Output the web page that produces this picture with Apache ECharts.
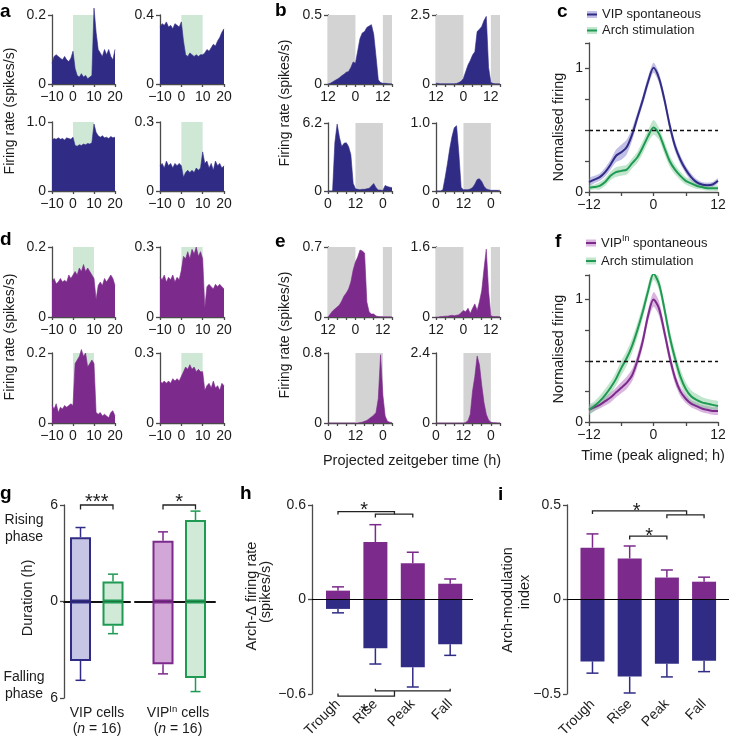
<!DOCTYPE html>
<html>
<head>
<meta charset="utf-8">
<title>VIP firing figure</title>
<script src="https://cdn.jsdelivr.net/npm/echarts@6.0.0/dist/echarts.min.js"></script>
<style>
html,body{margin:0;padding:0;background:#fff;}
#chart{width:729px;height:740px;}
</style>
</head>
<body>
<div id="chart"></div>
<script>
// ================= DATA =================
// panel a / d : optogenetic pulse (time from light onset, s)
const pulseTime = [-10,-9,-8,-7,-6,-5,-4,-3,-2,-1,0,1,2,3,4,5,6,7,8,9,10,11,12,13,14,15,16,17,18,19,20];
const lightOn = [0, 10];
const vipPulse1 = [0.06,0.08,0.085,0.08,0.075,0.07,0.08,0.07,0.065,0.075,0.095,0.045,0.025,0.02,0.03,0.02,0.025,0.015,0.02,0.025,0.22,0.15,0.1,0.09,0.08,0.1,0.085,0.1,0.08,0.07,0.1];
const vipPulse2 = [0.33,0.35,0.34,0.36,0.33,0.34,0.32,0.35,0.34,0.33,0.36,0.25,0.17,0.16,0.18,0.17,0.16,0.17,0.16,0.17,0.17,0.18,0.2,0.19,0.21,0.23,0.22,0.25,0.27,0.3,0.32];
const vipPulse3 = [0.74,0.76,0.75,0.77,0.75,0.76,0.74,0.77,0.76,0.75,0.78,0.66,0.65,0.67,0.66,0.68,0.67,0.69,0.68,0.7,0.97,0.85,0.8,0.78,0.8,0.77,0.78,0.76,0.79,0.77,0.78];
const vipPulse4 = [0.11,0.12,0.1,0.13,0.11,0.12,0.1,0.12,0.11,0.12,0.11,0.06,0.08,0.09,0.08,0.09,0.08,0.1,0.09,0.1,0.17,0.12,0.13,0.1,0.12,0.09,0.13,0.11,0.12,0.1,0.11];
const vipPulseYMax = ['0.2','0.4','1.0','0.3'];
const vipInPulse1 = [0.1,0.11,0.095,0.1,0.11,0.1,0.105,0.1,0.12,0.11,0.12,0.13,0.12,0.14,0.13,0.15,0.13,0.14,0.13,0.12,0.11,0.05,0.09,0.1,0.09,0.11,0.1,0.11,0.12,0.11,0.09];
const vipInPulse2 = [0.17,0.16,0.18,0.15,0.17,0.16,0.18,0.15,0.17,0.16,0.2,0.26,0.25,0.28,0.25,0.29,0.27,0.3,0.26,0.28,0.25,0.04,0.13,0.14,0.13,0.12,0.14,0.13,0.14,0.13,0.12];
const vipInPulse3 = [0.05,0.04,0.055,0.03,0.045,0.04,0.05,0.045,0.05,0.055,0.05,0.17,0.18,0.19,0.21,0.19,0.2,0.16,0.17,0.18,0.17,0.03,0.025,0.03,0.02,0.025,0.02,0.015,0.03,0.035,0.02];
const vipInPulse4 = [0.18,0.17,0.18,0.17,0.18,0.17,0.19,0.18,0.19,0.18,0.2,0.22,0.24,0.23,0.25,0.23,0.24,0.22,0.23,0.22,0.22,0.14,0.16,0.17,0.15,0.18,0.15,0.16,0.14,0.17,0.16];
const vipInPulseYMax = ['0.2','0.3','0.2','0.3'];

// panel b / e : projected zeitgeber time (h)
const zeitTop = [-12,-11,-10,-9,-8,-7,-6,-5,-4,-3,-2,-1,0,1,2,3,4,5,6,7,8,9,10,11,12,13,14,15,16];
const zeitBottom = [0,1,2,3,4,5,6,7,8,9,10,11,12,13,14,15,16,17,18,19,20,21,22,23,24,25,26,27,28];
const darkTop = [[-12, 0], [12, 16]];
const darkBottom = [[12, 24]];
const vipZeit1 = [0,0.005,0.015,0.025,0.035,0.045,0.06,0.07,0.085,0.09,0.12,0.16,0.15,0.24,0.33,0.37,0.38,0.41,0.42,0.43,0.36,0.2,0.03,0.01,0.005,0.005,0.003,0.002,0.002];
const vipZeit2 = [0.03,0.02,0.01,0.01,0.01,0.01,0.01,0.01,0.01,0.02,0.05,0.1,0.2,0.45,0.69,0.85,1.05,1.17,1.9,1.98,2.08,2.3,2.45,0.6,0.05,0.02,0.01,0.01,0.01];
const vipZeit3 = [0,0,0,4.4,6.1,4.9,4.05,4.35,4.4,4.05,3.3,0.7,0.2,0.15,0.12,0.15,0.15,0.2,0.25,0.45,0.68,0.3,0.1,0.08,0.05,0.5,0.4,0.35,0.3];
const vipZeit4 = [0,0,0,0.02,0.2,0.4,0.62,0.8,0.93,0.96,0.55,0.05,0.02,0.02,0.02,0.03,0.05,0.1,0.17,0.18,0.14,0.07,0.03,0.02,0.01,0.01,0.01,0.01,0.01];
const vipZeitYMax = ['0.5','2.5','6.2','1.0'];
const vipInZeit1 = [0,0.03,0.06,0.08,0.1,0.12,0.16,0.21,0.24,0.28,0.35,0.47,0.55,0.6,0.67,0.66,0.64,0.15,0.05,0.03,0.03,0.01,0.005,0.003,0.002,0.002,0.002,0.002,0.002];
const vipInZeit2 = [0,0,0.01,0.01,0.02,0.02,0.03,0.04,0.03,0.04,0.05,0.1,0.15,0.12,0.2,0.08,0.2,0.3,0.15,0.35,0.6,1.1,1.55,0.6,0.03,0.01,0.01,0.01,0.01];
const vipInZeit3 = [0,0,0,0,0,0,0,0,0,0,0,0,0,0,0.005,0.01,0.02,0.03,0.05,0.07,0.09,0.12,0.28,0.78,0.32,0.08,0.02,0.01,0.005];
const vipInZeit4 = [0,0,0,0,0,0,0,0,0,0,0,0,0,0.02,0.08,0.3,1.1,1.6,2.3,2.0,1.3,0.7,0.3,0.1,0.03,0.01,0.01,0,0];
const vipInZeitYMax = ['0.7','1.6','0.8','2.4'];

// panel c / f : normalised firing, peak aligned (h)
const alignTime = [-12,-11,-10,-9,-8,-7,-6,-5,-4,-3,-2,-1,0,1,2,3,4,5,6,7,8,9,10,11,12];
const vipSpontNorm = [0.08,0.1,0.12,0.16,0.22,0.29,0.32,0.36,0.46,0.6,0.74,0.89,1.0,0.92,0.75,0.54,0.37,0.26,0.18,0.12,0.08,0.06,0.055,0.06,0.09];
const vipSpontSem = [0.03,0.03,0.03,0.035,0.04,0.05,0.06,0.06,0.05,0.04,0.04,0.04,0.04,0.04,0.04,0.04,0.04,0.035,0.03,0.03,0.025,0.02,0.02,0.02,0.02];
const vipArchNorm = [0.035,0.04,0.05,0.08,0.13,0.16,0.17,0.18,0.23,0.28,0.36,0.45,0.52,0.47,0.36,0.25,0.18,0.13,0.09,0.07,0.05,0.04,0.03,0.03,0.03];
const vipArchSem = [0.02,0.02,0.03,0.03,0.035,0.04,0.04,0.04,0.04,0.045,0.05,0.05,0.06,0.05,0.05,0.045,0.04,0.035,0.03,0.03,0.025,0.02,0.02,0.02,0.02];
const vipInSpontNorm = [0.1,0.12,0.14,0.17,0.2,0.24,0.28,0.32,0.38,0.5,0.66,0.87,1.0,0.93,0.74,0.53,0.36,0.25,0.19,0.15,0.13,0.11,0.1,0.09,0.09];
const vipInSpontSem = [0.03,0.03,0.03,0.035,0.04,0.04,0.045,0.05,0.05,0.05,0.05,0.05,0.06,0.06,0.05,0.05,0.045,0.04,0.035,0.03,0.03,0.03,0.03,0.03,0.03];
const vipInArchNorm = [0.1,0.13,0.17,0.22,0.28,0.35,0.44,0.52,0.62,0.75,0.9,1.07,1.21,1.13,0.93,0.7,0.52,0.37,0.27,0.21,0.18,0.16,0.15,0.14,0.13];
const vipInArchSem = [0.04,0.04,0.045,0.05,0.05,0.055,0.06,0.06,0.06,0.06,0.055,0.05,0.05,0.05,0.05,0.055,0.06,0.06,0.055,0.05,0.05,0.045,0.04,0.04,0.04];
const halfMax = 0.5;

// panel g : rising / falling phase duration (h); index 0 = VIP cells, 1 = VIPln cells
const riseSpont = [4.0, 3.77];
const riseSpontSem = [0.6, 0.56];
const riseArch = [1.25, 5.06];
const riseArchSem = [0.45, 0.56];
const fallSpont = [3.7, 3.9];
const fallSpontSem = [1.2, 0.6];
const fallArch = [1.5, 4.75];
const fallArchSem = [0.5, 0.85];

// panel h / i
const phases = ['Trough', 'Rise', 'Peak', 'Fall'];
const vipInDelta = [0.056, 0.365, 0.23, 0.10];
const vipInDeltaSem = [0.024, 0.11, 0.07, 0.03];
const vipDelta = [-0.06, -0.31, -0.43, -0.285];
const vipDeltaSem = [0.025, 0.10, 0.126, 0.07];
const vipInMod = [0.274, 0.217, 0.116, 0.094];
const vipInModSem = [0.073, 0.066, 0.04, 0.024];
const vipMod = [-0.328, -0.408, -0.34, -0.325];
const vipModSem = [0.062, 0.087, 0.07, 0.057];

// ================= STYLE / LAYOUT =================
const FONT = "'Liberation Sans', Arial, Helvetica, sans-serif";
const TXT = '#1c1c1c';
const AXIS = '#4a4a4a';
const BLUE = '#302c86';
const PURPLE = '#7c2a8c';
const GREEN = '#1f9a52';
const LIGHT_GREEN = '#cfe7d5';
const DARK_GRAY = '#d3d3d3';
const BLUE_BAND = 'rgba(120,114,200,0.45)';
const GREEN_BAND = 'rgba(120,200,145,0.45)';
const PURPLE_BAND = 'rgba(170,90,185,0.45)';
const BLUE_FILL = '#c7c5e5';
const PURPLE_FILL = '#d2a6d7';
const GREEN_FILL = '#d1ead8';

const LAYOUT = {
  a: [[52,15,63,69],[160,15,64,69],[52,122,63,69],[160,122,64,69]],
  d: [[52,247,63,70],[160,247,64,70],[52,353,63,70],[160,353,64,70]],
  b: [[328,15,64,69],[436,15,64,69],[328,123,64,68],[436,123,64,68]],
  e: [[328,247,64,70],[436,247,64,70],[328,353,64,70],[436,353,64,70]],
  c: [589,43,129,149],
  f: [589,275,129,147],
  g1: [64,505,66,193],
  g2: [135,505,80,193],
  h: [312,505,161,193],
  i: [567,505,162,193]
};

const grids = [], xAxes = [], yAxes = [], series = [];
const minus = v => String(v).replace('-', '\u2212');
const labelStyle = {color: TXT, fontSize: 14, fontFamily: FONT};

function addGrid(box) {
  grids.push({left: box[0], top: box[1], width: box[2], height: box[3], containLabel: false});
  return grids.length - 1;
}
function plainYAxis(gi, min, max, interval, fmt, show) {
  return {gridIndex: gi, type: 'value', min, max, interval, show: show !== false,
    axisLine: {show: true, onZero: false, lineStyle: {color: AXIS, width: 1.3}},
    axisTick: {show: true, length: 4, lineStyle: {color: AXIS, width: 1.3}},
    axisLabel: Object.assign({formatter: fmt, margin: 6}, labelStyle),
    splitLine: {show: false}};
}

function miniPlot(box, times, values, yTopLabel, xMin, xMax, xInt, xFmt, color, shades, shadeColor) {
  const gi = addGrid(box);
  const yTop = parseFloat(yTopLabel);
  xAxes.push({gridIndex: gi, type: 'value', min: xMin, max: xMax, interval: xInt,
    axisLine: {onZero: false, lineStyle: {color: AXIS, width: 1.3}},
    axisTick: {length: 3, lineStyle: {color: AXIS, width: 1.3}},
    axisLabel: Object.assign({formatter: xFmt, margin: 6, showMinLabel: true, showMaxLabel: true}, labelStyle),
    splitLine: {show: false}});
  yAxes.push(plainYAxis(gi, 0, yTop, yTop, v => (v === 0 ? '0' : yTopLabel)));
  series.push({type: 'line', xAxisIndex: gi, yAxisIndex: gi, clip: false, symbol: 'none', silent: true,
    data: times.map((t, i) => [t, values[i]]),
    lineStyle: {color: color, width: 0.6}, areaStyle: {color: color, opacity: 1},
    markArea: {silent: true, itemStyle: {color: shadeColor, opacity: 1},
      data: shades.map(s => [{xAxis: s[0]}, {xAxis: s[1]}])}});
}

const pulseFmt = v => minus(v);
const zeitFmt = v => (v % 12 === 0 ? String(((v % 24) + 24) % 24) : '');

const vipPulse = [vipPulse1, vipPulse2, vipPulse3, vipPulse4];
const vipInPulse = [vipInPulse1, vipInPulse2, vipInPulse3, vipInPulse4];
const vipZeit = [vipZeit1, vipZeit2, vipZeit3, vipZeit4];
const vipInZeit = [vipInZeit1, vipInZeit2, vipInZeit3, vipInZeit4];
for (let k = 0; k < 4; k++) {
  miniPlot(LAYOUT.a[k], pulseTime, vipPulse[k], vipPulseYMax[k], -10, 20, 10, pulseFmt, BLUE, [lightOn], LIGHT_GREEN);
  miniPlot(LAYOUT.d[k], pulseTime, vipInPulse[k], vipInPulseYMax[k], -10, 20, 10, pulseFmt, PURPLE, [lightOn], LIGHT_GREEN);
  const top = k < 2;
  miniPlot(LAYOUT.b[k], top ? zeitTop : zeitBottom, vipZeit[k], vipZeitYMax[k], top ? -12 : 0, top ? 16 : 28, 4, zeitFmt, BLUE, top ? darkTop : darkBottom, DARK_GRAY);
  miniPlot(LAYOUT.e[k], top ? zeitTop : zeitBottom, vipInZeit[k], vipInZeitYMax[k], top ? -12 : 0, top ? 16 : 28, 4, zeitFmt, PURPLE, top ? darkTop : darkBottom, DARK_GRAY);
}

// shaded mean +/- SEM band drawn through the axis scales
function bandSeries(gi, m, s, col) {
  return {type: 'custom', xAxisIndex: gi, yAxisIndex: gi, silent: true, z: 2, clip: true,
    data: alignTime.map((t, i) => [t, m[i] - s[i], m[i] + s[i]]),
    encode: {x: 0, y: [1, 2]},
    renderItem: (p, api) => {
      if (p.dataIndex !== 0) return null;
      const upper = [], lower = [];
      for (let i = 0; i < alignTime.length; i++) {
        upper.push(api.coord([alignTime[i], m[i] + s[i]]));
        lower.push(api.coord([alignTime[i], m[i] - s[i]]));
      }
      return {type: 'polygon', shape: {points: upper.concat(lower.reverse()), smooth: 0.25}, style: {fill: col}};
    }};
}

function normPlot(box, m1, s1, c1, b1, m2, s2, c2, b2) {
  const gi = addGrid(box);
  xAxes.push({gridIndex: gi, type: 'value', min: -12, max: 12, interval: 6,
    axisLine: {onZero: false, lineStyle: {color: AXIS, width: 1.3}},
    axisTick: {length: 4, lineStyle: {color: AXIS, width: 1.3}},
    axisLabel: Object.assign({formatter: v => (v % 12 === 0 ? minus(v) : ''), margin: 6}, labelStyle),
    splitLine: {show: false}});
  yAxes.push(plainYAxis(gi, 0, 1.2, 0.25, v => (v === 0 ? '0' : v === 1 ? '1' : '')));
  series.push(bandSeries(gi, m1, s1, b1));
  series.push(bandSeries(gi, m2, s2, b2));
  series.push({type: 'line', xAxisIndex: gi, yAxisIndex: gi, symbol: 'none', silent: true, smooth: 0.3, z: 4,
    data: alignTime.map((t, i) => [t, m1[i]]), lineStyle: {color: c1, width: 2},
    markLine: {silent: true, symbol: ['none', 'none'], label: {show: false},
      lineStyle: {color: '#111', width: 1.3, type: [4, 3]}, data: [{yAxis: halfMax}]}});
  series.push({type: 'line', xAxisIndex: gi, yAxisIndex: gi, symbol: 'none', silent: true, smooth: 0.3, z: 4,
    data: alignTime.map((t, i) => [t, m2[i]]), lineStyle: {color: c2, width: 2}});
  return gi;
}
normPlot(LAYOUT.c, vipSpontNorm, vipSpontSem, BLUE, BLUE_BAND, vipArchNorm, vipArchSem, GREEN, GREEN_BAND);
normPlot(LAYOUT.f, vipInSpontNorm, vipInSpontSem, PURPLE, PURPLE_BAND, vipInArchNorm, vipInArchSem, GREEN, GREEN_BAND);

function errorSeries(gi, xs, tops, sems, color, capHalf) {
  return {type: 'custom', xAxisIndex: gi, yAxisIndex: gi, silent: true, z: 3,
    data: xs.map((x, i) => [x, tops[i], tops[i] + Math.sign(tops[i]) * sems[i]]),
    renderItem: (p, api) => {
      const a = api.coord([api.value(0), api.value(1)]);
      const b = api.coord([api.value(0), api.value(2)]);
      return {type: 'group', children: [
        {type: 'line', shape: {x1: a[0], y1: a[1], x2: b[0], y2: b[1]}, style: {stroke: color, lineWidth: 1.5}},
        {type: 'line', shape: {x1: b[0] - capHalf, y1: b[1], x2: b[0] + capHalf, y2: b[1]}, style: {stroke: color, lineWidth: 1.5}}
      ]};
    }};
}

// panel g: two groups
const gGrids = [];
[[LAYOUT.g1, -0.508, 1.523, true], [LAYOUT.g2, -0.862, 1.6, false]].forEach((cfg, grp) => {
  const gi = addGrid(cfg[0]);
  gGrids.push(gi);
  xAxes.push({gridIndex: gi, type: 'value', min: cfg[1], max: cfg[2],
    axisLine: {show: true, onZero: true, lineStyle: {color: '#111', width: 2}},
    axisTick: {show: false}, axisLabel: {show: false}, splitLine: {show: false}});
  yAxes.push(plainYAxis(gi, -6, 6, 6, v => String(Math.abs(v)), cfg[3]));
  const spontBorder = grp === 0 ? BLUE : PURPLE;
  const spontFill = grp === 0 ? BLUE_FILL : PURPLE_FILL;
  const item = (x, v, border, fill) => ({value: [x, v], itemStyle: {color: fill, borderColor: border, borderWidth: 2}});
  series.push({type: 'bar', xAxisIndex: gi, yAxisIndex: gi, barWidth: 21, barGap: '-100%', silent: true,
    data: [item(0, riseSpont[grp], spontBorder, spontFill), item(1, riseArch[grp], GREEN, GREEN_FILL)]});
  series.push({type: 'bar', xAxisIndex: gi, yAxisIndex: gi, barWidth: 21, barGap: '-100%', silent: true,
    data: [item(0, -fallSpont[grp], spontBorder, spontFill), item(1, -fallArch[grp], GREEN, GREEN_FILL)]});
  series.push(errorSeries(gi, [0, 0], [riseSpont[grp], -fallSpont[grp]], [riseSpontSem[grp], fallSpontSem[grp]], spontBorder, 5));
  series.push(errorSeries(gi, [1, 1], [riseArch[grp], -fallArch[grp]], [riseArchSem[grp], fallArchSem[grp]], GREEN, 5));
});

// panels h and i
function phasePlot(box, xmin, xmax, ymax, pos, posSem, neg, negSem) {
  const gi = addGrid(box);
  xAxes.push({gridIndex: gi, type: 'value', min: xmin, max: xmax,
    axisLine: {show: false, onZero: false}, axisTick: {show: false}, splitLine: {show: false},
    axisLabel: Object.assign({customValues: [0, 1, 2, 3], formatter: v => phases[Math.round(v)], rotate: 45, margin: 8}, labelStyle)});
  yAxes.push(plainYAxis(gi, -ymax, ymax, ymax, v => (v === 0 ? '0' : minus(v))));
  const xs = [0, 1, 2, 3];
  series.push({type: 'bar', xAxisIndex: gi, yAxisIndex: gi, barWidth: 24, barGap: '-100%', silent: true,
    itemStyle: {color: PURPLE}, data: xs.map((x, i) => [x, pos[i]])});
  series.push({type: 'bar', xAxisIndex: gi, yAxisIndex: gi, barWidth: 24, barGap: '-100%', silent: true,
    itemStyle: {color: BLUE}, data: xs.map((x, i) => [x, neg[i]]),
    markLine: {silent: true, symbol: ['none', 'none'], label: {show: false}, z: 10,
      lineStyle: {color: '#000', width: 1.2, type: 'solid'}, data: [{yAxis: 0}]}});
  series.push(errorSeries(gi, xs, pos, posSem, PURPLE, 6));
  series.push(errorSeries(gi, xs, neg, negSem, BLUE, 6));
  return gi;
}
const hGrid = phasePlot(LAYOUT.h, -0.695, 3.61, 0.6, vipInDelta, vipInDeltaSem, vipDelta, vipDeltaSem);
const iGrid = phasePlot(LAYOUT.i, -0.685, 3.67, 0.5, vipInMod, vipInModSem, vipMod, vipModSem);

const chart = echarts.init(document.getElementById('chart'), null, {renderer: 'canvas', width: 729, height: 740});
chart.setOption({animation: false, backgroundColor: '#fff', grid: grids, xAxis: xAxes, yAxis: yAxes, series: series});

// ================= ANNOTATIONS =================
const G = [];
function text(x, y, str, o) {
  o = o || {};
  const st = {text: str, fill: o.color || TXT, fontSize: o.size || 14, fontFamily: FONT,
    fontWeight: o.weight || 'normal', fontStyle: o.style || 'normal',
    align: o.align || 'center', verticalAlign: o.valign || 'middle'};
  if (o.rich) st.rich = o.rich;
  G.push({type: 'text', x: x, y: y, rotation: o.rot || 0, silent: true, z: 100, style: st});
}
const VERT = Math.PI / 2;
// panel letters
[['a',0,21],['b',275,20],['c',557,21],['d',0,249],['e',275,251],['f',555,251],['g',0,503],['h',240,503],['i',498,504]]
  .forEach(l => text(l[1], l[2], l[0], {size: 19, weight: 'bold', align: 'left', valign: 'bottom', color: '#000'}));

text(10, 111, 'Firing rate (spikes/s)', {rot: VERT, size: 14});
text(10, 337, 'Firing rate (spikes/s)', {rot: VERT, size: 14});
text(285, 103, 'Firing rate (spikes/s)', {rot: VERT, size: 14});
text(285, 335, 'Firing rate (spikes/s)', {rot: VERT, size: 14});
text(412, 461, 'Projected zeitgeber time (h)', {size: 14.5});
text(559, 127, 'Normalised firing', {rot: VERT, size: 14.5});
text(559, 349, 'Normalised firing', {rot: VERT, size: 14.5});
text(653, 456, 'Time (peak aligned; h)', {size: 14.5});

const supRich = {
  a: {fontSize: 13, fontFamily: FONT, fill: TXT, color: TXT},
  s: {fontSize: 9, fontFamily: FONT, fill: TXT, color: TXT, padding: [0, 0, 8, 0]}
};
function legendItem(x, y, lineColor, bandColor, label, rich) {
  G.push({type: 'rect', shape: {x: x, y: y - 3.5, width: 10, height: 7}, style: {fill: bandColor}, silent: true, z: 100});
  G.push({type: 'line', shape: {x1: x, y1: y, x2: x + 10, y2: y}, style: {stroke: lineColor, lineWidth: 2}, silent: true, z: 101});
  text(x + 15, y, label, {align: 'left', size: 13, rich: rich});
}
legendItem(587, 14.5, BLUE, BLUE_BAND, 'VIP spontaneous');
legendItem(587, 30.5, GREEN, GREEN_BAND, 'Arch stimulation');
legendItem(586, 243, PURPLE, PURPLE_BAND, '{a|VIP}{s|In}{a| spontaneous}', supRich);
legendItem(586, 261, GREEN, GREEN_BAND, 'Arch stimulation');

// panel g texts
text(24, 520, 'Rising'); text(24, 537, 'phase');
text(24, 677, 'Falling'); text(24, 694, 'phase');
text(28, 598, 'Duration (h)', {rot: VERT, size: 14.5});
const supRich14 = {
  a: {fontSize: 14, fontFamily: FONT, fill: TXT, color: TXT},
  s: {fontSize: 9.5, fontFamily: FONT, fill: TXT, color: TXT, padding: [0, 0, 8, 0]},
  i: {fontSize: 14, fontFamily: FONT, fill: TXT, color: TXT, fontStyle: 'italic'}
};
text(97, 713, 'VIP cells');
text(97, 729, '{a|(}{i|n}{a| = 16)}', {rich: supRich14});
text(178, 713, '{a|VIP}{s|In}{a| cells}', {rich: supRich14});
text(178, 729, '{a|(}{i|n}{a| = 16)}', {rich: supRich14});

// h, i axis titles
text(252, 596, 'Arch-\u0394 firing rate', {rot: VERT, size: 14.5});
text(266, 592, '(spikes/s)', {rot: VERT, size: 14.5});
text(508, 600, 'Arch-modulation', {rot: VERT, size: 14.5});
text(525, 592, 'index', {rot: VERT, size: 14.5});

// significance brackets (in data units of each grid)
function bracket(gi, pts) {
  G.push({type: 'polyline', silent: true, z: 100,
    shape: {points: pts.map(p => chart.convertToPixel({gridIndex: gi}, p))},
    style: {stroke: '#222', lineWidth: 1.3, fill: null}});
}
function star(gi, p, s) {
  const q = chart.convertToPixel({gridIndex: gi}, p);
  text(q[0], q[1] + 5, s, {size: 20});
}
bracket(gGrids[0], [[0, 5.72], [0, 6], [1, 6], [1, 5.72]]);
star(gGrids[0], [0.5, 6.45], '***');
bracket(gGrids[1], [[0, 5.72], [0, 6], [1, 6], [1, 5.72]]);
star(gGrids[1], [0.5, 6.45], '*');

bracket(hGrid, [[0, 0.54], [0, 0.558], [1.51, 0.558], [1.51, 0.542]]);
bracket(hGrid, [[1, 0.52], [1, 0.542], [2, 0.542], [2, 0.52]]);
star(hGrid, [0.7, 0.594], '*');
bracket(hGrid, [[0, -0.598], [0, -0.614], [1.51, -0.614], [1.51, -0.581]]);
bracket(hGrid, [[1, -0.567], [1, -0.581], [3, -0.581], [3, -0.567]]);
star(hGrid, [0.7, -0.685], '*');

bracket(iGrid, [[0, 0.452], [0, 0.469], [2.53, 0.469], [2.53, 0.448]]);
bracket(iGrid, [[2, 0.43], [2, 0.448], [3, 0.448], [3, 0.43]]);
star(iGrid, [1.19, 0.49], '*');
bracket(iGrid, [[1, 0.318], [1, 0.335], [2, 0.335], [2, 0.318]]);
star(iGrid, [1.52, 0.36], '*');

chart.setOption({graphic: {elements: G}});
</script>
</body>
</html>
